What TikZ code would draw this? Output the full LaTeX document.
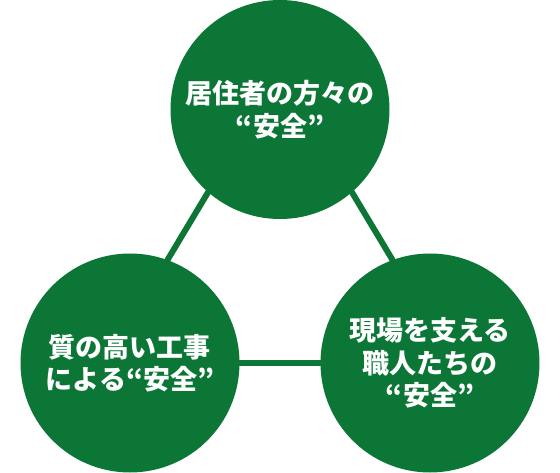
\documentclass[tikz,border=0pt]{standalone}
\usepackage{fontspec}
\newfontfamily\jpfont{Noto Sans CJK JP}
\usetikzlibrary{backgrounds}
\definecolor{anzengreen}{rgb}{0.043,0.463,0.212}
\tikzset{
  anzen/.style={circle, fill=anzengreen, text=white, minimum size=219pt,
    inner sep=0pt, align=center,
    font=\jpfont\bfseries\fontsize{27}{32.5}\selectfont},
  link/.style={draw=anzengreen, line width=6pt,
    shorten <=-4pt, shorten >=-4pt}
}
\begin{document}
\begin{tikzpicture}[x=1pt,y=-1pt]
  \useasboundingbox (0,0) rectangle (560,473);

  % Drawing the three circles
  \node[anzen] (resident) at (280,109.5) {居住者の方々の\\“安全”};
  \node[anzen] (quality) at (130,363) {質の高い工事\\による“安全”};
  \node[anzen] (crafts) at (430,363) {現場を支える\\職人たちの\\“安全”};

  % Drawing the triangle behind them
  \begin{pgfonlayer}{background}
    \draw[link] (resident.229) -- (quality.70);
    \draw[link] (resident.311) -- (crafts.110);
    \draw[link] (quality.east) -- (crafts.west);
  \end{pgfonlayer}
\end{tikzpicture}
\end{document}
